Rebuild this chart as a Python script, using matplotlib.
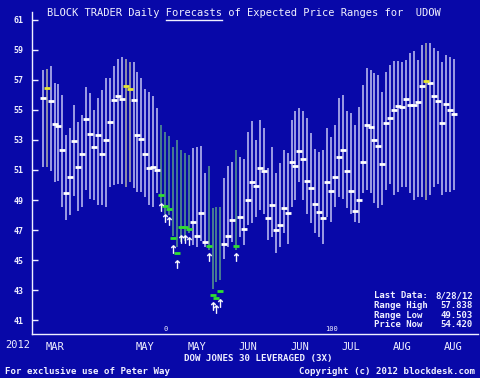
import matplotlib
matplotlib.use("Agg")
import matplotlib.pyplot as plt
import numpy as np

# daily forecast ranges (high / low) and closing price, one per trading day
highs = [57.67, 57.7, 57.9, 56.8, 56.7, 56.0, 53.3, 53.8, 55.3, 54.2,
         54.67, 56.55, 56.1, 55.0, 55.8, 56.33, 57.1, 57.1, 57.9, 58.4,
         58.5, 58.4, 58.2, 58.2, 57.5, 57.1, 56.4, 56.2, 55.9, 55.1,
         54.0, 53.55, 53.27, 52.5, 53.0, 52.3, 52.1, 52.0, 52.45, 52.5,
         52.6, 50.8, 51.27, 48.45, 48.55, 48.55, 50.5, 51.27, 51.55, 52.33,
         51.85, 51.7, 53.55, 54.27, 53.0, 54.33, 53.8, 51.1, 52.55, 50.8,
         51.45, 52.33, 52.1, 54.33, 54.9, 55.1, 54.9, 54.45, 53.45, 52.4,
         52.2, 52.33, 53.8, 53.18, 54.0, 55.78, 56.0, 54.9, 54.78, 54.0,
         55.2, 56.67, 57.78, 57.67, 57.45, 57.33, 56.2, 57.55, 58.0, 58.28,
         58.27, 58.2, 58.33, 58.82, 58.9, 58.33, 59.33, 59.45, 59.45, 59.1,
         58.95, 58.2, 58.67, 58.5, 58.38]
lows = [51.2, 51.2, 50.9, 50.2, 50.3, 48.55, 47.67, 48.0, 49.3, 48.3,
        48.55, 49.67, 49.1, 49.0, 48.67, 48.67, 48.55, 49.9, 50.0, 50.1,
        50.1, 49.9, 50.2, 49.8, 49.55, 49.55, 49.2, 48.67, 48.55, 49.45,
        48.78, 48.1, 48.0, 46.6, 45.9, 46.2, 46.3, 46.8, 46.0, 45.9,
        46.3, 45.9, 45.67, 43.1, 43.55, 43.67, 45.1, 45.9, 46.2, 45.67,
        46.55, 46.0, 47.33, 47.5, 47.9, 48.33, 48.1, 46.33, 46.55, 45.45,
        45.9, 46.8, 46.1, 48.55, 49.0, 50.2, 49.0, 48.1, 47.45, 46.8,
        46.55, 46.1, 47.9, 47.55, 48.55, 49.2, 49.1, 48.45, 48.1, 47.55,
        47.45, 49.45, 49.67, 49.45, 48.78, 48.45, 48.67, 49.67, 50.1, 49.33,
        49.55, 49.9, 49.9, 49.45, 49.0, 49.2, 49.2, 49.0, 49.33, 49.9,
        50.1, 49.33, 49.55, 49.55, 49.67]
prices = [55.8, 56.45, 55.6, 54.05, 53.9, 52.3, 49.5, 50.55, 52.9, 51.2,
          52.07, 54.4, 53.4, 52.5, 53.3, 52.05, 53.0, 54.2, 55.67, 55.9,
          55.7, 56.6, 56.4, 55.67, 53.33, 53.07, 52.07, 51.15, 51.2, 51.0,
          49.33, 48.6, 48.4, 46.5, 45.5, 47.2, 47.2, 47.05, 47.55, 46.6,
          48.15, 46.2, 45.95, 42.7, 42.5, 42.93, 46.05, 46.6, 47.67, 45.95,
          47.9, 47.05, 49.0, 50.2, 49.93, 51.13, 50.9, 47.78, 48.7, 47.0,
          47.33, 48.5, 48.15, 51.5, 51.25, 52.27, 51.73, 50.27, 49.8, 48.73,
          48.18, 47.82, 50.2, 49.6, 50.55, 51.87, 52.35, 50.93, 49.6, 48.3,
          49.02, 51.55, 54.0, 53.87, 53.0, 52.6, 51.4, 54.13, 54.45, 55.0,
          55.27, 55.2, 55.73, 55.33, 55.33, 55.5, 56.6, 56.95, 56.82, 55.95,
          55.6, 54.13, 55.4, 55.0, 54.75]
# w = normal, y = yellow marker, g = green (buy signal with arrow)
kinds = list("wywwwwwwwwwwwwwwwwwww"
             "yywwwwwww"
             "ggggggggwwwwggggwwwg"
             "wwwwwwwwwwwwwwwwwwwwwwwwwwwwwwwwwwwwwwwwwwwwwww"
             "ywwwwwww")

month_pos = [3, 26, 39, 52, 65, 78, 91, 104]
month_labels = ['MAR', 'MAY', 'MAY', 'JUN', 'JUN', 'JUL', 'AUG', 'AUG']
mark_pos = [31, 73]
mark_labels = ['0', '100']
yticks = [41, 43, 45, 47, 49, 51, 53, 55, 57, 59, 61]
info_labels = ['Last Data:', 'Range High', 'Range Low', 'Price Now']
info_values = ['8/28/12', '57.838', '49.503', '54.420']

BG = '#0808a8'
FG = '#f0f0ff'
bar_colors = {'w': '#c4c4f4', 'y': '#b4b4a8', 'g': '#5a9c8c'}
dot_colors = {'w': '#ffffff', 'y': '#e8e830', 'g': '#30e030'}
MONO = 'DejaVu Sans Mono'

fig = plt.figure(figsize=(4.8, 3.78), dpi=100, facecolor=BG)
ax = fig.add_axes([32/480, 1-334/378, 446/480, 322/378])
ax.set_facecolor(BG)

x = np.arange(len(highs))
for k in 'wyg':
    idx = [i for i in x if kinds[i] == k]
    ax.vlines(idx, [lows[i] for i in idx], [highs[i] for i in idx],
              color=bar_colors[k], lw=1.1)
for k in 'wyg':
    idx = [i for i in x if kinds[i] == k]
    ax.plot(idx, [prices[i] for i in idx], ls='none', marker='_',
            ms=4.0 if k != 'g' else 4.4, mew=2.0, color=dot_colors[k])
# buy-signal arrows below green markers
g_idx = [i for i in x if kinds[i] == 'g']
ax.plot(g_idx, [prices[i] - 0.78 for i in g_idx], ls='none',
        marker=r'$\uparrow$', ms=6, color='white', mew=0.3)

ax.set_xlim(-2.7, 110.2)
ax.set_ylim(40.07, 61.53)

for s in ['top', 'right']:
    ax.spines[s].set_visible(False)
for s in ['left', 'bottom']:
    ax.spines[s].set_color(FG)
    ax.spines[s].set_linewidth(1.0)

ax.set_yticks(yticks)
ax.set_yticklabels([str(v) for v in yticks], fontfamily=MONO,
                   fontweight='bold', fontsize=6)
ax.tick_params(axis='y', direction='in', length=4, width=1, colors=FG, pad=6)
ax.set_xticks(month_pos)
ax.set_xticklabels(month_labels, fontfamily=MONO, fontsize=7.5)
ax.tick_params(axis='x', length=0, colors=FG, pad=6)

for p, lab in zip(mark_pos, mark_labels):
    ax.text(p, 40.2, lab, color=FG, fontsize=5, fontfamily=MONO,
            ha='center', va='bottom')

fig.text(5/480, 1-345/378, '2012', color=FG, fontsize=7.5, fontfamily=MONO,
         va='center')

title = fig.text(47/480, 1-13/378,
                 'BLOCK TRADER Daily Forecasts of Expected Price Ranges for  UDOW',
                 color=FG, fontsize=7.5, fontfamily=MONO, va='center')
fig.canvas.draw()
bb = title.get_window_extent()
cw = bb.width / len(title.get_text())
x0 = (bb.x0 + 19*cw) / 480
x1 = (bb.x0 + 28*cw) / 480
fig.add_artist(plt.Line2D([x0, x1], [1-19.5/378]*2, color=FG, lw=1.0))

for j, (lab, val) in enumerate(zip(info_labels, info_values)):
    yy = 1 - (296 + j*9.6)/378
    fig.text(374/480, yy, lab, color=FG, fontsize=6.5, fontfamily=MONO,
             fontweight='bold', va='center')
    fig.text(473/480, yy, val, color=FG, fontsize=6.5, fontfamily=MONO,
             fontweight='bold', va='center', ha='right')

fig.text(258/480, 1-359/378, 'DOW JONES 30 LEVERAGED (3X)', color=FG,
         fontsize=6.6, fontfamily=MONO, fontweight='bold', ha='center', va='center')
fig.text(5/480, 1-371/378, 'For exclusive use of Peter Way', color=FG,
         fontsize=6.6, fontfamily=MONO, fontweight='bold', va='center')
fig.text(475/480, 1-371/378, 'Copyright (c) 2012 blockdesk.com', color=FG,
         fontsize=6.6, fontfamily=MONO, fontweight='bold', va='center', ha='right')

fig.savefig('out.png', dpi=100, facecolor=BG)
